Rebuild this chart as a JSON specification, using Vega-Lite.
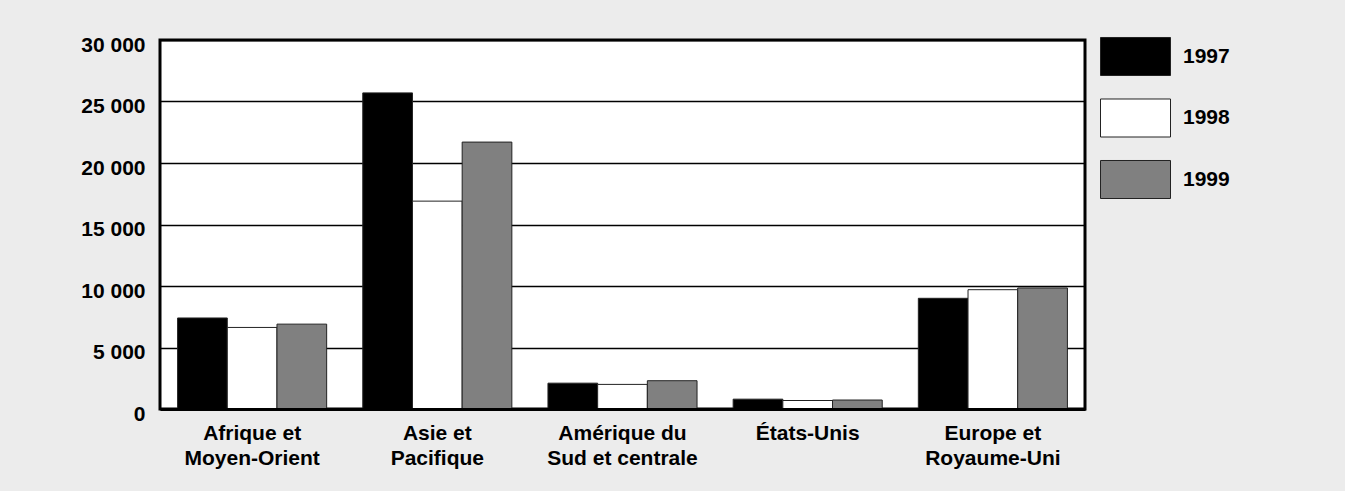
{
  "$schema": "https://vega.github.io/schema/vega-lite/v6.json",
  "autosize": {"type": "none"},
  "padding": {"left": 160, "top": 40, "right": 260, "bottom": 82},
  "width": 925,
  "height": 369,
  "background": "#ececec",
  "config": {
    "view": {"stroke": "#000", "strokeWidth": 3, "fill": "#fff"},
    "font": "Liberation Sans",
    "axis": {"labelFont": "Liberation Sans", "labelFontWeight": "bold", "labelFontSize": 21, "labelColor": "#000", "title": null}
  },
  "data": {
    "values": [
      {"region": "Afrique et|Moyen-Orient", "year": "1997", "value": 7400},
      {"region": "Afrique et|Moyen-Orient", "year": "1998", "value": 6630},
      {"region": "Afrique et|Moyen-Orient", "year": "1999", "value": 6900},
      {"region": "Asie et|Pacifique", "year": "1997", "value": 25700},
      {"region": "Asie et|Pacifique", "year": "1998", "value": 16900},
      {"region": "Asie et|Pacifique", "year": "1999", "value": 21700},
      {"region": "Amérique du|Sud et centrale", "year": "1997", "value": 2100},
      {"region": "Amérique du|Sud et centrale", "year": "1998", "value": 2000},
      {"region": "Amérique du|Sud et centrale", "year": "1999", "value": 2300},
      {"region": "États-Unis", "year": "1997", "value": 800},
      {"region": "États-Unis", "year": "1998", "value": 690},
      {"region": "États-Unis", "year": "1999", "value": 730},
      {"region": "Europe et|Royaume-Uni", "year": "1997", "value": 9000},
      {"region": "Europe et|Royaume-Uni", "year": "1998", "value": 9700},
      {"region": "Europe et|Royaume-Uni", "year": "1999", "value": 9840}
    ]
  },
  "mark": {"type": "bar", "stroke": "#222", "strokeWidth": 1},
  "encoding": {
    "x": {
      "field": "region",
      "type": "nominal",
      "sort": null,
      "scale": {"paddingInner": 0.195, "paddingOuter": 0.095},
      "axis": {
        "labelAngle": 0,
        "labelExpr": "split(datum.label, '|')",
        "labelLineHeight": 25,
        "labelBaseline": "top",
        "labelPadding": 13,
        "ticks": false,
        "domain": true,
        "domainColor": "#000",
        "domainWidth": 3,
        "zindex": 1
      }
    },
    "xOffset": {"field": "year", "type": "nominal"},
    "y": {
      "field": "value",
      "type": "quantitative",
      "scale": {"domain": [0, 30000], "nice": false},
      "axis": {
        "values": [0, 5000, 10000, 15000, 20000, 25000, 30000],
        "labelExpr": "replace(format(datum.value, ','), ',', ' ')",
        "grid": true,
        "gridColor": "#000",
        "gridWidth": 1.3,
        "domain": false,
        "ticks": false,
        "labelPadding": 15,
        "labelOffset": 5
      }
    },
    "color": {
      "field": "year",
      "type": "nominal",
      "scale": {"domain": ["1997", "1998", "1999"], "range": ["#000000", "#ffffff", "#808080"]},
      "legend": {
        "title": null,
        "orient": "none",
        "legendX": 940,
        "legendY": -19,
        "symbolType": "M-1,-0.543H1V0.543H-1Z",
        "symbolSize": 4900,
        "symbolStrokeColor": "#222",
        "symbolStrokeWidth": 1,
        "symbolOpacity": 1,
        "labelFont": "Liberation Sans",
        "labelFontWeight": "bold",
        "labelFontSize": 21,
        "labelColor": "#000",
        "labelOffset": 12,
        "rowPadding": 4.5
      }
    }
  }
}
